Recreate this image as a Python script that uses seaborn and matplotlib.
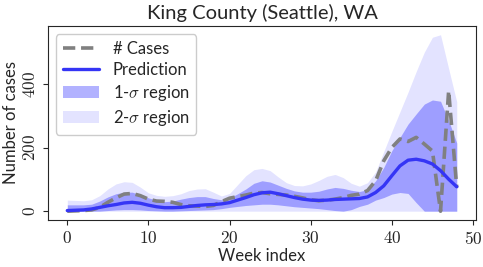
import numpy as np
import pandas as pd
import matplotlib
matplotlib.use('Agg')
import matplotlib.pyplot as plt
from matplotlib.ticker import FuncFormatter
import seaborn as sns

# weekly values
weeks = list(range(49))
cases = [0, 1, 2, 4, 12, 28, 42, 54, 56, 49, 38, 32, 31, 28, 21, 17, 16, 15, 18, 30,
         41, 46, 51, 57, 59, 55, 53, 51, 47, 42, 36, 33, 35, 38, 43, 50, 54, 65, 96, 159,
         201, 228, 220, 233, 212, 190, 0, 380, 75]
pred = [2, 3, 4, 7, 12, 17, 21, 26, 28, 25, 19, 14, 11, 11, 12, 15, 18, 20, 21, 23,
        27, 35, 43, 52, 58, 60, 55, 49, 43, 38, 35, 34, 35, 37, 38, 39, 40, 45, 59, 80,
        112, 143, 161, 164, 159, 149, 128, 101, 77]
up1 = [20, 20, 20, 22, 32, 45, 55, 60, 60, 52, 42, 35, 30, 32, 38, 43, 46, 46, 40, 36,
       42, 55, 70, 88, 96, 92, 82, 72, 64, 60, 60, 63, 70, 75, 72, 66, 62, 68, 96, 138,
       191, 233, 275, 307, 338, 351, 347, 286, 215]
lo1 = [0, 0, 0, 0, 0, 2, 4, 5, 5, 4, 2, 1, 0, 0, 1, 2, 3, 4, 5, 8,
       12, 15, 18, 20, 22, 22, 20, 17, 14, 12, 10, 8, 5, 2, 0, 5, 15, 22, 35, 43,
       54, 59, 56, 27, 0, 0, 0, 0, 0]
up2 = [35, 34, 33, 36, 49, 70, 86, 93, 91, 76, 58, 50, 47, 49, 55, 65, 70, 71, 60, 48,
       56, 84, 112, 131, 135, 128, 108, 90, 81, 80, 86, 97, 110, 116, 106, 88, 79, 90, 124, 188,
       252, 314, 376, 441, 502, 549, 557, 450, 345]
lo2 = [0] * 49

df = pd.DataFrame({'week': weeks, 'cases': cases, 'pred': pred})

sns.set_style('ticks')
plt.rcParams['font.family'] = ['Lato', 'DejaVu Sans']
plt.rcParams['mathtext.fontset'] = 'cm'

fig, ax = plt.subplots(figsize=(4.83, 2.67), dpi=100)
fig.subplots_adjust(left=0.099, right=0.986, top=0.903, bottom=0.176)

sns.lineplot(data=df, x='week', y='cases', ax=ax, color='gray', lw=2.6,
             linestyle=(0, (3.4, 1.6)), label='# Cases', zorder=4)
sns.lineplot(data=df, x='week', y='pred', ax=ax, color='#3535f5', lw=2.4,
             label='Prediction', zorder=5)
ax.fill_between(weeks, lo1, up1, color='blue', alpha=0.3, lw=0, label=r'1-$\sigma$ region')
ax.fill_between(weeks, lo2, up2, color='blue', alpha=0.11, lw=0, label=r'2-$\sigma$ region')

ax.set_title('King County (Seattle), WA', fontsize=14.5, pad=5)
ax.set_xlabel('Week index', fontsize=12, labelpad=1)
ax.set_ylabel('Number of cases', fontsize=12, labelpad=2)
ax.set_xticks([0, 10, 20, 30, 40, 50])
ax.set_yticks([0, 200, 400])
fmt = FuncFormatter(lambda v, p: '$%d$' % v)
ax.xaxis.set_major_formatter(fmt)
ax.yaxis.set_major_formatter(fmt)
ax.tick_params(labelsize=12.5)
plt.setp(ax.get_yticklabels(), rotation=90, va='center')
for s in ax.spines.values():
    s.set_visible(True)

ax.legend(loc='upper left', fontsize=12, handlelength=2.2, borderpad=0.4,
          labelspacing=0.3, handletextpad=0.8, framealpha=1)

plt.savefig('out.png', dpi=100)
